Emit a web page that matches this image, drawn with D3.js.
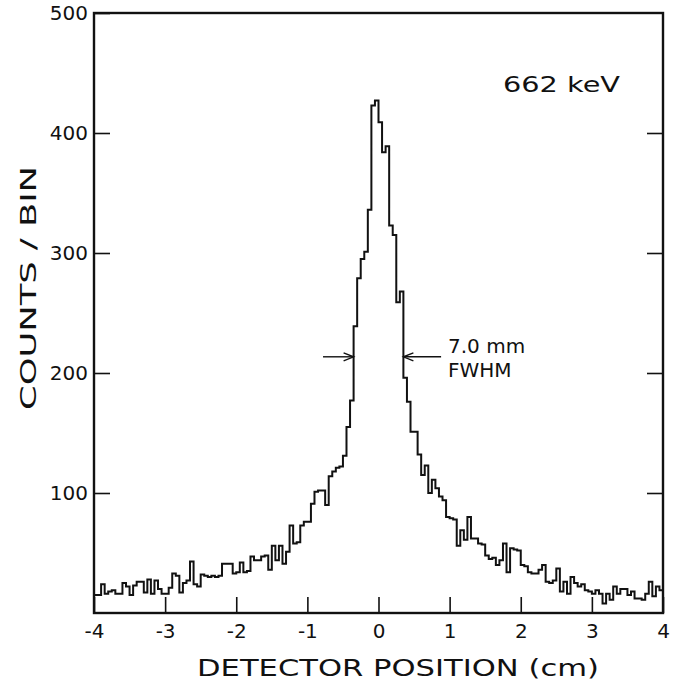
<!DOCTYPE html>
<html><head><meta charset="utf-8">
<script src="https://cdn.jsdelivr.net/npm/d3@7"></script>
<style>
body{margin:0;background:#fff}
text{font-family:"DejaVu Sans",sans-serif;fill:#111}
</style>
</head><body><svg id="c" width="674" height="683"></svg>
<script>
// ---- data ----
const binStart = -4, binWidth = 0.05;
const counts = [
 15,15,24,16,18,19,16,16,25,22, 15,23,26,26,17,28,16,27,20,16,
 16,21,33,31,17,25,27,43,24,22, 32,31,30,31,30,31,41,41,41,33,
 34,42,34,35,47,44,44,47,48,36, 56,44,56,41,51,73,58,59,73,76,
 76,91,101,102,102,90,114,118,121,122, 131,155,177,239,279,295,301,336,423,427,
 409,384,389,323,315,259,268,196,176,151, 151,132,115,123,100,111,104,97,94,80,
 79,78,56,69,61,80,62,62,58,57, 48,45,46,40,44,58,34,54,53,52,
 40,39,34,33,33,36,40,26,25,27, 37,18,26,16,30,25,22,24,19,18,
 16,19,16,8,16,11,22,16,20,20, 15,18,12,12,11,16,26,14,22,19
];
const xTicks = [-4,-3,-2,-1,0,1,2,3,4];
const yTicks = [100,200,300,400,500];
const xLabel = "DETECTOR POSITION (cm)";
const yLabel = "COUNTS / BIN";
const energyLabel = "662 keV";
const fwhmText = ["7.0 mm","FWHM"];
const fwhmEdges = [-0.35, 0.35];   // cm
const arrowTails = [-0.78, 0.88];  // cm

// ---- scales ----
const svg = d3.select("#c");
const x = d3.scaleLinear().domain([-4,4]).range([94,663]);
const y = d3.scaleLinear().domain([0,500]).range([613,13]);
const fmt = d => d < 0 ? "-" + Math.abs(d) : String(d);

// ---- axes ----
const gx = svg.append("g").attr("transform","translate(0,613)")
  .call(d3.axisBottom(x).tickValues(xTicks).tickSize(-16).tickPadding(11).tickFormat(fmt));
gx.select(".domain").remove();
gx.selectAll(".tick line").attr("stroke","#111").attr("stroke-width",1.6);
gx.selectAll(".tick text").attr("font-size",20).attr("fill","#111");

const gy = svg.append("g").attr("transform","translate(94,0)")
  .call(d3.axisLeft(y).tickValues(yTicks).tickSize(-16).tickPadding(6).tickFormat(fmt));
gy.select(".domain").remove();
gy.selectAll(".tick line").attr("stroke","#111").attr("stroke-width",1.6);
gy.selectAll(".tick text").attr("font-size",20).attr("fill","#111");

const gr = svg.append("g").attr("transform","translate(663,0)")
  .call(d3.axisRight(y).tickValues(yTicks.slice(0,4)).tickSize(-16).tickFormat(""));
gr.select(".domain").remove();
gr.selectAll(".tick line").attr("stroke","#111").attr("stroke-width",1.6);

// frame
svg.append("rect").attr("x",x(-4)).attr("y",y(500))
  .attr("width",x(4)-x(-4)).attr("height",y(0)-y(500))
  .attr("fill","none").attr("stroke","#111").attr("stroke-width",2.4);

// ---- histogram ----
const pts = counts.map((c,i)=>[binStart+i*binWidth, c]);
pts.push([binStart+counts.length*binWidth, counts[counts.length-1]]);
const line = d3.line().x(d=>x(d[0])).y(d=>y(d[1])).curve(d3.curveStepAfter);
svg.append("path").attr("d",line(pts)).attr("fill","none")
  .attr("stroke","#111").attr("stroke-width",2).attr("stroke-linejoin","miter");

// ---- FWHM arrows ----
const half = d3.max(counts)/2;
const yh = y(half);
function arrow(tail, head){
  const x0 = x(tail), x1 = x(head), dir = Math.sign(x1-x0);
  svg.append("line").attr("x1",x0).attr("x2",x1).attr("y1",yh).attr("y2",yh)
    .attr("stroke","#111").attr("stroke-width",1.4);
  svg.append("path").attr("d",`M${x1-dir*10},${yh-4}L${x1},${yh}L${x1-dir*10},${yh+4}`)
    .attr("fill","none").attr("stroke","#111").attr("stroke-width",1.4);
}
arrow(arrowTails[0], fwhmEdges[0]);
arrow(arrowTails[1], fwhmEdges[1]);

svg.append("text").attr("x",448).attr("y",353).attr("font-size",20).text(fwhmText[0]);
svg.append("text").attr("x",448).attr("y",377).attr("font-size",20).text(fwhmText[1]);

// ---- labels ----
svg.append("text").attr("x",503).attr("y",92).attr("font-size",22)
  .attr("textLength",117).attr("lengthAdjust","spacingAndGlyphs").text(energyLabel);
svg.append("text").attr("x",398).attr("y",676).attr("text-anchor","middle")
  .attr("font-size",23).attr("textLength",402).attr("lengthAdjust","spacingAndGlyphs").text(xLabel);
svg.append("text").attr("transform","translate(36,288) rotate(-90)").attr("text-anchor","middle")
  .attr("font-size",22).attr("textLength",244).attr("lengthAdjust","spacingAndGlyphs").text(yLabel);
</script>
</body></html>
